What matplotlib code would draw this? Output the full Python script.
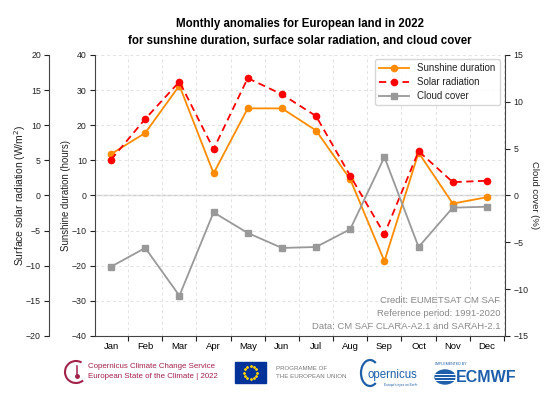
import numpy as np
import matplotlib
matplotlib.use("Agg")
import matplotlib.pyplot as plt
from matplotlib.patches import Arc, Rectangle, Ellipse

plt.rcParams['font.family'] = ['Liberation Sans', 'DejaVu Sans']

# Monthly anomalies 2022
months = ["Jan", "Feb", "Mar", "Apr", "May", "Jun",
          "Jul", "Aug", "Sep", "Oct", "Nov", "Dec"]
sunshine = [11.8, 17.8, 31.3, 6.3, 24.8, 24.8, 18.5, 4.6, -18.7, 12.2, -2.3, -0.5]   # hours
solar = [5.1, 10.9, 16.2, 6.6, 16.7, 14.4, 11.3, 2.8, -5.5, 6.3, 1.9, 2.1]           # W/m2
cloud = [-7.6, -5.6, -10.7, -1.8, -4.0, -5.6, -5.5, -3.6, 4.1, -5.5, -1.3, -1.2]     # %

ORANGE = "#ff8c00"
RED = "#ff0000"
GREY = "#999999"
TXT = "#222222"
FS = 6.3

fig = plt.figure(figsize=(5.54, 3.95), dpi=100)
ax = fig.add_axes([0.1715, 0.1494, 0.7401, 0.7114])
x = np.arange(len(months))

# sunshine axis (inner left)
ax.set_ylim(-40, 40)
ax.set_yticks(np.arange(-40, 41, 10))
ax.set_xlim(-0.47, 11.53)
ax.set_xticks(np.arange(0.5, 12, 1))
ax.set_xticklabels([])
ax.set_xticks(x, minor=True)
ax.set_xticklabels(months, minor=True)
ax.tick_params(axis='x', which='minor', length=0, pad=4, labelsize=6.8)
ax.tick_params(axis='x', which='major', length=3.5, direction='out')
ax.tick_params(axis='y', labelsize=FS, colors=TXT, length=3.5, pad=2.5)
ax.tick_params(axis='x', colors=TXT)
ax.grid(True, which='major', ls=(0, (3, 3)), color='#e2e2e2', lw=0.7)
ax.axhline(0, color='#cccccc', lw=1.0, zorder=1)
ax.set_ylabel("Sunshine duration (hours)", fontsize=6.9, color=TXT)
ax.yaxis.label.set_va('center')
ax.yaxis.set_label_coords((66 - 95) / 410, 0.5)
for s in ['top', 'right']:
    ax.spines[s].set_visible(False)
for s in ['left', 'bottom']:
    ax.spines[s].set_color('#444444')
l1, = ax.plot(x, sunshine, color=ORANGE, lw=1.3, marker='o', ms=4.5, label="Sunshine duration", zorder=3)

# solar radiation axis (outer left)
ax2 = ax.twinx()
ax2.set_ylim(-20, 20)
ax2.set_yticks(np.arange(-20, 21, 5))
ax2.yaxis.set_ticks_position('left')
ax2.yaxis.set_label_position('left')
ax2.spines['left'].set_position(('outward', 33))
ax2.spines['left'].set_visible(True)
ax2.spines['left'].set_color('#444444')
for s in ['top', 'right', 'bottom']:
    ax2.spines[s].set_visible(False)
ax2.tick_params(axis='y', labelsize=FS, colors=TXT, length=3.5, pad=2.5)
ax2.set_ylabel("Surface solar radiation (W/m$^2$)", fontsize=7.5, color=TXT)
ax2.yaxis.label.set_va('center')
ax2.yaxis.set_label_coords((20 - 95) / 410, 0.5)
l2, = ax2.plot(x, solar, color=RED, lw=1.3, ls=(0, (4, 2.5)), marker='o', ms=4.5, label="Solar radiation", zorder=3)

# cloud cover axis (right)
ax3 = ax.twinx()
ax3.set_ylim(-15, 15)
ax3.set_yticks(np.arange(-15, 16, 5))
for s in ['top', 'left', 'bottom']:
    ax3.spines[s].set_visible(False)
ax3.spines['right'].set_color('#444444')
ax3.tick_params(axis='y', labelsize=FS, colors=TXT, length=3.5, pad=2.5)
ax3.set_ylabel("Cloud cover (%)", fontsize=6.8, color=TXT, rotation=270)
ax3.yaxis.label.set_va('center')
ax3.yaxis.set_label_coords((534 - 95) / 410, 0.5)
l3, = ax3.plot(x, cloud, color=GREY, lw=1.3, marker='s', ms=4.5, label="Cloud cover", zorder=3)

leg = ax3.legend(handles=[l1, l2, l3], loc='upper right', bbox_to_anchor=(0.99, 0.99),
                 fontsize=7, frameon=True, borderaxespad=0.1, handlelength=3.0,
                 labelspacing=0.4, borderpad=0.45, handletextpad=0.9)
leg.get_frame().set_edgecolor('#cccccc')
for t in leg.get_texts():
    t.set_color(TXT)

ax.set_title("Monthly anomalies for European land in 2022\n"
             "for sunshine duration, surface solar radiation, and cloud cover",
             fontsize=8.3, fontweight='bold', linespacing=1.5, pad=8)

credit = ["Credit: EUMETSAT CM SAF", "Reference period: 1991-2020",
          "Data: CM SAF CLARA-A2.1 and SARAH-2.1"]
for i, line in enumerate(credit):
    ax.text(0.988, 0.128 - i * 0.048, line, transform=ax.transAxes, ha='right', va='center',
            fontsize=6.8, color='#8a8a8a')

# footer logos (pixel coordinates of the strip)
la = fig.add_axes([0, 0, 1, 47 / 395])
la.set_xlim(0, 554)
la.set_ylim(0, 47)
la.axis('off')

C3S = "#a3224a"
la.add_patch(Arc((76, 23), 22, 22, theta1=60, theta2=310, color=C3S, lw=1.5))
la.plot([77, 77], [20, 29], color=C3S, lw=1.1)
la.plot([77], [19], marker='o', ms=2.5, color=C3S)
la.text(88, 28, "Copernicus Climate Change Service", fontsize=5.7, color=C3S, va='center')
la.text(88, 18, "European State of the Climate | 2022", fontsize=5.7, color=C3S, va='center')

la.add_patch(Rectangle((235, 12), 31, 21, color="#003399"))
ang = np.linspace(0, 2 * np.pi, 13)[:-1]
la.scatter(250.5 + 6.5 * np.cos(ang), 22.5 + 6.5 * np.sin(ang), s=1.2, color="#ffcc00", marker='*')
la.text(276, 27, "PROGRAMME OF", fontsize=4.4, color="#777777", va='center')
la.text(276, 18, "THE EUROPEAN UNION", fontsize=4.4, color="#777777", va='center')

BLUE_C = "#1f5fa8"
la.add_patch(Arc((370, 22), 18, 26, theta1=60, theta2=300, color=BLUE_C, lw=1.6))
la.text(368, 20, "opernicus", fontsize=8.3, color=BLUE_C, va='center')
la.text(384, 10, "Europe's eyes on Earth", fontsize=2.3, color=BLUE_C, va='center')

ECM = "#1d5fab"
la.text(435, 31, "IMPLEMENTED BY", fontsize=2.6, color=ECM, va='center')
la.add_patch(Ellipse((445, 18), 20, 14, color=ECM))
for yy in [15, 18, 21]:
    la.plot([435, 455], [yy, yy], color='white', lw=0.7)
la.text(456, 18, "ECMWF", fontsize=11.5, fontweight='bold', color=ECM, va='center')

fig.savefig("out.png", dpi=100)
